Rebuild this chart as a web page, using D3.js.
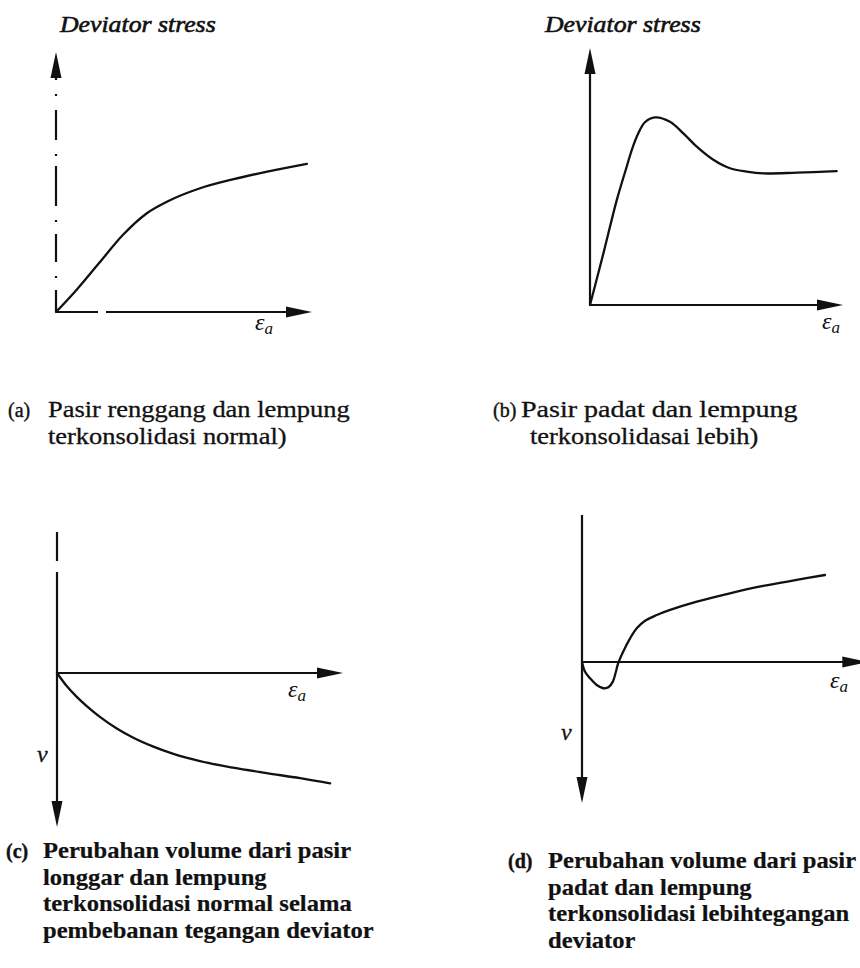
<!DOCTYPE html>
<html>
<head>
<meta charset="utf-8">
<script src="https://cdn.jsdelivr.net/npm/d3@7"></script>
<style>
  body { margin: 0; background: #fff; }
  svg { display: block; }
</style>
</head>
<body>
<svg id="fig" width="860" height="968"></svg>
<script>
// Axial strain (arbitrary units, 0-100) and the response drawn in each sketch
const strainA = [0, 8, 17, 26, 35.5, 43.5, 56, 69, 82.5, 98];
const stressA = [0, 8.5, 19, 29.5, 38, 42.5, 47.5, 51, 54, 57];

const strainB = [0, 5.3, 10.6, 14.5, 16.5, 19.1, 21.7, 25.7, 31.6, 36.9, 42.2, 48.9, 55.3, 61.9, 68.5, 81.7, 97.5];
const stressB = [0, 20.1, 40.9, 53.8, 60.3, 66.8, 71.1, 73.0, 71.3, 66.8, 61.6, 56.4, 53.2, 51.9, 51.2, 51.5, 52.1];

const strainC = [0, 3.4, 6.9, 10.4, 15.0, 20.9, 26.7, 33.7, 40.7, 50.0, 61.6, 73.3, 85.0, 95.5];
const volumeC = [0, -8.5, -15.5, -21.5, -28.5, -36.0, -42.0, -47.8, -52.5, -57.2, -61.5, -65.0, -68.3, -71.7];

const strainD = [0, 1.1, 2.9, 5.3, 7.7, 9.5, 11.1, 12.2, 13.0, 14.8, 17.3, 19.7, 22.7, 26.9, 31.7, 41.3, 53.2, 65.2, 77.2, 87.4];
const volumeD = [0, -6.5, -10.9, -15.3, -17.5, -16.9, -13.1, -6.5, -0.9, 6.9, 15.8, 22.5, 27.5, 31.3, 34.7, 40.2, 45.8, 50.7, 54.7, 58.0];

// Axis titles and captions
const stressTitle = "Deviator stress";
const captionTags = ["(a)", "(b)", "(c)", "(d)"];
const captionA = ["Pasir renggang dan lempung", "terkonsolidasi normal)"];
const captionB = ["Pasir padat dan lempung", "terkonsolidasai lebih)"];
const captionC = ["Perubahan volume dari  pasir", "longgar dan lempung", "terkonsolidasi normal selama", "pembebanan tegangan deviator"];
const captionD = ["Perubahan volume  dari pasir", "padat dan lempung", "terkonsolidasi lebihtegangan", "deviator"];

const svg = d3.select("#fig");
const INK = "#111";
const SERIF = "'Liberation Serif', 'Times New Roman', serif";
const STRETCH = 1.15;   // the typeset text is set wide

function arrowHead(g, tx, ty, dir, len = 26, half = 5.5) {
  // dir: unit vector pointing toward the tip
  const [dx, dy] = dir;
  const bx = tx - dx * len, by = ty - dy * len;
  const px = -dy * half, py = dx * half;
  g.append("path")
    .attr("d", `M${tx},${ty} L${bx + px},${by + py} L${bx - px},${by - py} Z`)
    .attr("fill", INK);
}

function addText(g, x, y, str, o = {}) {
  return g.append("text")
    .attr("transform", `translate(${x},${y}) scale(${o.sx || STRETCH},1)`)
    .attr("font-family", SERIF)
    .attr("font-size", o.size || 23)
    .attr("font-style", o.italic ? "italic" : "normal")
    .attr("font-weight", o.bold ? "bold" : "normal")
    .attr("fill", INK)
    .attr("stroke", INK)
    .attr("stroke-width", o.thick || 0.3)
    .text(str);
}

function strainLabel(g, x, y) {
  const t = g.append("text")
    .attr("transform", `translate(${x},${y})`)
    .attr("font-family", SERIF)
    .attr("font-style", "italic")
    .attr("font-size", 24)
    .attr("fill", INK);
  t.append("tspan").text("ε");
  t.append("tspan").attr("font-size", 17).attr("dy", 4).text("a");
}

function drawPanel(cfg) {
  const x = d3.scaleLinear().domain([0, 100]).range(cfg.xRange);
  const y = d3.scaleLinear().domain(cfg.yDomain).range(cfg.yRange);
  const g = svg.append("g");
  const axisStyle = sel => sel.attr("stroke", INK).attr("stroke-width", 2.2).attr("fill", "none");

  // horizontal strain axis
  g.append("line")
    .attr("x1", x(0)).attr("y1", y(0))
    .attr("x2", x(cfg.xTip) - 14).attr("y2", y(0))
    .call(axisStyle)
    .attr("stroke-dasharray", cfg.xDash || null);
  arrowHead(g, x(cfg.xTip), y(0), [1, 0]);

  // vertical axis
  g.append("line")
    .attr("x1", x(0)).attr("y1", y(cfg.yFrom))
    .attr("x2", x(0)).attr("y2", y(cfg.yTip) + (cfg.yTipDir * -14))
    .call(axisStyle)
    .attr("stroke-dasharray", cfg.yDash || null);
  arrowHead(g, x(0), y(cfg.yTip), [0, cfg.yTipDir]);

  // response curve
  const pts = cfg.xs.map((v, i) => [v, cfg.ys[i]]);
  g.append("path")
    .datum(pts)
    .attr("d", d3.line().x(d => x(d[0])).y(d => y(d[1])).curve(cfg.curve || d3.curveCatmullRom.alpha(0.5)))
    .attr("stroke", INK).attr("stroke-width", 2.3).attr("fill", "none")
    .attr("stroke-linecap", "round");

  return { g, x, y };
}

// (a) loose sand / normally consolidated clay
const pa = drawPanel({
  xRange: [56, 312], yDomain: [0, 100], yRange: [312, 52],
  xTip: 100, yFrom: 0, yTip: 100, yTipDir: -1,
  xs: strainA, ys: stressA, curve: d3.curveMonotoneX,
  xDash: "42,8,400",
  yDash: "22,12,2,14,28,12,2,14,40,10,2,14,30,14,2,14,300"
});
addText(pa.g, 60, 32, stressTitle, { italic: true, sx: 1.12, thick: 0.6 });
strainLabel(pa.g, 255, 330);

// (b) dense sand / overconsolidated clay
const pb = drawPanel({
  xRange: [590, 843], yDomain: [0, 100], yRange: [305, 48],
  xTip: 100, yFrom: 0, yTip: 100, yTipDir: -1,
  xs: strainB, ys: stressB
});
addText(pb.g, 545, 32, stressTitle, { italic: true, sx: 1.12, thick: 0.6 });
strainLabel(pb.g, 822, 329);

// (c) volume change, loose sand
const pc = drawPanel({
  xRange: [57, 343], yDomain: [-100, 0], yRange: [827, 673],
  xTip: 100, yFrom: 91.5, yTip: -100, yTipDir: 1,
  xs: strainC, ys: volumeC, curve: d3.curveMonotoneX,
  yDash: "29,11,400"
});
strainLabel(pc.g, 288, 697);
addText(pc.g, 37, 762, "ν", { italic: true, size: 24, sx: 1 });

// (d) volume change, dense sand
const pd = drawPanel({
  xRange: [582, 860], yDomain: [-100, 0], yRange: [812, 662],
  xTip: 103, yFrom: 98, yTip: -94, yTipDir: 1,
  xs: strainD, ys: volumeD
});
strainLabel(pd.g, 830, 688);
addText(pd.g, 561, 740, "ν", { italic: true, size: 24, sx: 1 });

// captions
const cap = svg.append("g");
function caption(tag, lines, tagX, textX, y0, step, extra = {}) {
  addText(cap, tagX, y0, tag, { size: 20, sx: 1, bold: extra.bold, thick: 0.4 });
  lines.forEach((s, i) => {
    const lx = (extra.lineX && extra.lineX[i] != null) ? extra.lineX[i] : textX;
    const sx = (extra.lineSx && extra.lineSx[i] != null) ? extra.lineSx[i] : extra.sx;
    addText(cap, lx, y0 + i * step, s, Object.assign({}, extra, { sx }));
  });
}
caption(captionTags[0], captionA, 8, 48, 417, 27);
caption(captionTags[1], captionB, 493, 521, 417, 27, { lineX: [null, 530], lineSx: [1.22, 1.15] });
caption(captionTags[2], captionC, 6, 43, 858, 26.5, { bold: true, sx: 1.07, thick: 0.2 });
caption(captionTags[3], captionD, 508, 548, 868, 26.5, { bold: true, sx: 1.07, thick: 0.2 });
</script>
</body>
</html>
